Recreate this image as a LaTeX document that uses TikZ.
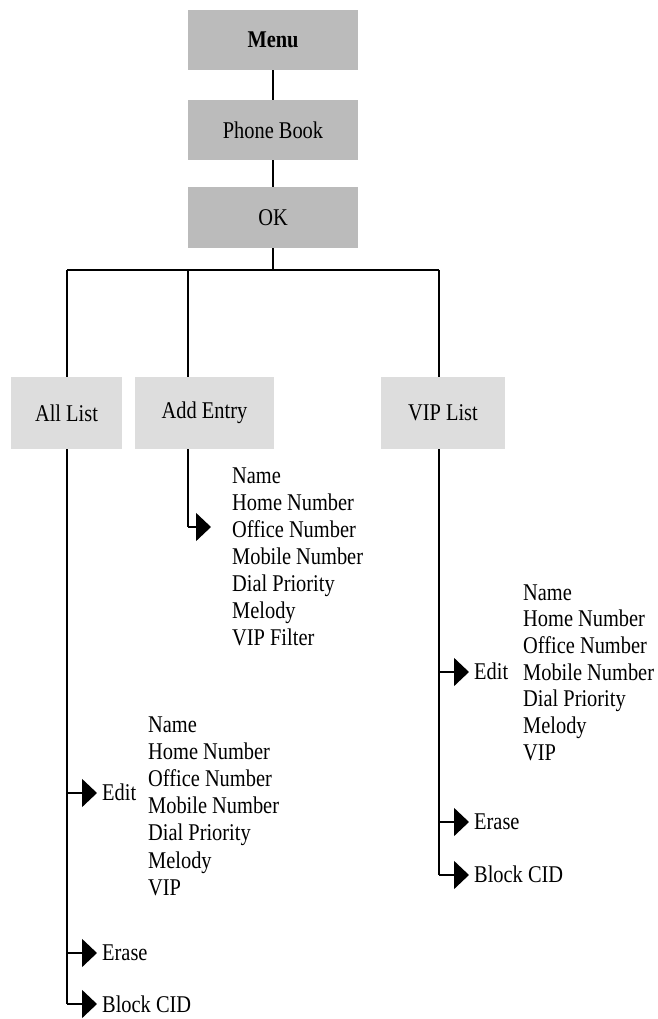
\documentclass[tikz,border=0pt]{standalone}
\usepackage{fontspec}
\setmainfont{Liberation Serif}[FakeStretch=0.85]
\usetikzlibrary{arrows.meta}
\definecolor{topgray}{HTML}{BBBBBB}
\definecolor{subgray}{HTML}{DDDDDD}
\begin{document}
\begin{tikzpicture}[x=1pt,y=-1pt,
  font=\fontsize{24}{27}\selectfont,
  link/.style={line width=1.6pt},
  arr/.style={line width=1.6pt,-{Triangle[length=15pt,width=28pt]}},
  topbox/.style={fill=topgray,minimum width=170pt,inner sep=0pt},
  subbox/.style={fill=subgray,minimum height=72pt,inner sep=0pt},
  item/.style={anchor=base west,inner sep=0pt},
  lbl/.style={anchor=base west,inner xsep=5pt,inner ysep=0pt}]
\useasboundingbox (0,0) rectangle (657,1019);

% top boxes
\node[topbox,minimum height=60pt] (menu) at (273,40) {\textbf{Menu}};
\node[topbox,minimum height=60pt] (book) at (273,130) {Phone Book};
\node[topbox,minimum height=61pt] (ok) at (273,217.5) {OK};

% sub boxes
\node[subbox,minimum width=111pt] (all) at (66.5,413) {All List};
\node[subbox,minimum width=139pt] (add) at (204.5,413) {Add Entry};
\node[subbox,minimum width=124pt] (vip) at (443,413) {VIP List};

% junctions
\coordinate (bar) at (273,270);
\coordinate (jA) at (67,270);
\coordinate (jB) at (188,270);
\coordinate (jV) at (439,270);

\draw[link] (menu) -- (book);
\draw[link] (book) -- (ok);
\draw[link] (ok.south) -- (bar);
\draw[link] (jA) -- (jV);
\draw[link] (jA) -- (jA |- all.north);
\draw[link] (jB) -- (jB |- add.north);
\draw[link] (jV) -- (jV |- vip.north);

% ---- Add Entry branch
\coordinate (bArr) at (188,527);
\foreach \t [count=\i] in {Name,Home Number,Office Number,Mobile Number,Dial Priority,Melody,VIP Filter}
  \node[item] (ae\i) at (232,{483+27*(\i-1)}) {\t};
\draw[link] (jB |- add.south) -- (bArr);
\draw[arr,shorten >=21pt] (bArr) -- (bArr -| ae3.west);

% ---- All List branch
\coordinate (aEdit) at (67,793);
\coordinate (aErase) at (67,953);
\coordinate (aBlock) at (67,1004);
\node[lbl] (aeditl) at (97,800) {Edit};
\node[lbl] (aerasel) at (97,960) {Erase};
\node[lbl] (ablockl) at (97,1012) {Block CID};
\foreach \t [count=\i] in {Name,Home Number,Office Number,Mobile Number,Dial Priority,Melody,VIP}
  \node[item] (al\i) at (148,{732+27.2*(\i-1)}) {\t};
\draw[link] (jA |- all.south) -- (aBlock);
\draw[arr] (aEdit) -- (aEdit -| aeditl.west);
\draw[arr] (aErase) -- (aErase -| aerasel.west);
\draw[arr] (aBlock) -- (aBlock -| ablockl.west);

% ---- VIP List branch
\coordinate (vEdit) at (439,672);
\coordinate (vErase) at (439,822);
\coordinate (vBlock) at (439,875);
\node[lbl] (veditl) at (469,679) {Edit};
\node[lbl] (verasel) at (469,829) {Erase};
\node[lbl] (vblockl) at (469,882) {Block CID};
\foreach \t [count=\i] in {Name,Home Number,Office Number,Mobile Number,Dial Priority,Melody,VIP}
  \node[item] (vl\i) at (523,{600+26.7*(\i-1)}) {\t};
\draw[link] (jV |- vip.south) -- (vBlock);
\draw[arr] (vEdit) -- (vEdit -| veditl.west);
\draw[arr] (vErase) -- (vErase -| verasel.west);
\draw[arr] (vBlock) -- (vBlock -| vblockl.west);
\end{tikzpicture}
\end{document}
